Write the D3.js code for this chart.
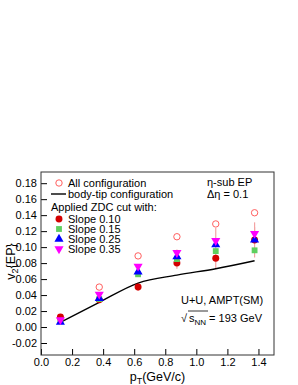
<!DOCTYPE html>
<html><head><meta charset="utf-8">
<script src="https://cdn.jsdelivr.net/npm/d3@7"></script>
<style>body{margin:0;background:#fff}svg{display:block}text{font-family:"Liberation Sans",Arial,sans-serif;fill:#000}</style>
</head><body>
<svg id="c" width="298" height="385"></svg>
<script>
const pt = [0.125, 0.375, 0.625, 0.875, 1.125, 1.375];
const allConfig = [0.011, 0.050, 0.089, 0.113, 0.129, 0.143];
const bodyTip = [0.006, 0.031, 0.055, 0.065, 0.073, 0.083];
const slope010 = [0.0125, 0.034, 0.050, 0.080, 0.086, 0.109];
const slope010Err = [0.002, 0.003, 0.005, 0.007, 0.012, 0.022];
const slope015 = [0.008, 0.035, 0.066, 0.085, 0.095, 0.096];
const slope025 = [0.006, 0.036, 0.069, 0.088, 0.103, 0.109];
const slope035 = [0.009, 0.041, 0.076, 0.093, 0.108, 0.117];
const slope035Err = [0.001, 0.002, 0.003, 0.004, 0.016, 0.008];
const xTicks = [0.0, 0.2, 0.4, 0.6, 0.8, 1.0, 1.2, 1.4];
const yTicks = [-0.02, 0.00, 0.02, 0.04, 0.06, 0.08, 0.10, 0.12, 0.14, 0.16, 0.18];
const legendLabels = ["All configuration", "body-tip configuration", "Applied ZDC cut with:", "Slope 0.10", "Slope 0.15", "Slope 0.25", "Slope 0.35"];

const svg = d3.select("#c");
const L = 41, R = 274, T = 172, B = 355;
const x = d3.scaleLinear().domain([0, 1.5]).range([L, R]);
const y = d3.scaleLinear().domain([-0.035, 0.194]).range([B, T]);

// axes
const xMinor = d3.range(0, 1.501, 0.05);
const yMinor = d3.range(-0.035, 0.1941, 0.005);
const gx = svg.append("g").attr("transform", `translate(0,${B})`);
gx.call(d3.axisBottom(x).tickValues(xMinor).tickSize(-3).tickFormat(""));
gx.call(d3.axisBottom(x).tickValues(xTicks).tickSize(-6).tickPadding(3).tickFormat(d3.format(".1f")));
const gy = svg.append("g").attr("transform", `translate(${L},0)`);
gy.call(d3.axisLeft(y).tickValues(yMinor).tickSize(-3).tickFormat(""));
gy.call(d3.axisLeft(y).tickValues(yTicks).tickSize(-6).tickPadding(4).tickFormat(d => d3.format(".2f")(d).replace("−", "-")));
svg.selectAll(".domain").remove();
svg.selectAll(".tick line").attr("stroke", "#000");
svg.selectAll(".tick text").attr("font-size", 11).attr("font-family", '"Liberation Sans",Arial,sans-serif');
svg.append("rect").attr("x", L).attr("y", T).attr("width", R - L).attr("height", B - T)
  .attr("fill", "none").attr("stroke", "#333").attr("stroke-width", 1);

// axis titles
const xt = svg.append("text").attr("x", (L + R) / 2).attr("y", 381).attr("text-anchor", "middle").attr("font-size", 12.5);
xt.append("tspan").text("p");
xt.append("tspan").attr("font-size", 9).attr("dy", 3).text("T");
xt.append("tspan").attr("dy", -3).text("(GeV/c)");
const yt = svg.append("text").attr("transform", `translate(15,${(T + B) / 2 - 2}) rotate(-90)`).attr("text-anchor", "middle").attr("font-size", 12.5);
yt.append("tspan").text("v");
yt.append("tspan").attr("font-size", 9).attr("dy", 3).text("2");
yt.append("tspan").attr("dy", -3).text("{EP}");

// error bars
const errColor = "#f3a3a3";
svg.append("g").selectAll("line").data(pt).join("line")
  .attr("x1", d => x(d)).attr("x2", d => x(d))
  .attr("y1", (d, i) => y(slope010[i] - slope010Err[i])).attr("y2", (d, i) => y(slope010[i] + slope010Err[i]))
  .attr("stroke", errColor).attr("stroke-width", 1.2);
svg.append("g").selectAll("line").data(pt).join("line")
  .attr("x1", d => x(d)).attr("x2", d => x(d))
  .attr("y1", (d, i) => y(slope035[i] - slope035Err[i])).attr("y2", (d, i) => y(slope035[i] + slope035Err[i]))
  .attr("stroke", errColor).attr("stroke-width", 1.2);

// all configuration open circles
const cAll = "#ff5f5f", cRed = "#d40000", cGreen = "#5fcf5f", cBlue = "#0000ff", cMag = "#ff00ff";
svg.append("g").selectAll("circle").data(pt).join("circle")
  .attr("cx", d => x(d)).attr("cy", (d, i) => y(allConfig[i])).attr("r", 3.2)
  .attr("fill", "none").attr("stroke", cAll).attr("stroke-width", 1);

// body-tip line
svg.append("path").datum(pt.map((d, i) => [d, bodyTip[i]]))
  .attr("d", d3.line().x(d => x(d[0])).y(d => y(d[1])).curve(d3.curveMonotoneX))
  .attr("fill", "none").attr("stroke", "#000").attr("stroke-width", 1.4);

function markers(vals, type, color, size, rot) {
  svg.append("g").selectAll("path").data(pt).join("path")
    .attr("d", d3.symbol().type(type).size(size))
    .attr("transform", (d, i) => `translate(${x(d)},${y(vals[i])}) rotate(${rot || 0})`)
    .attr("fill", color);
}
markers(slope010, d3.symbolCircle, cRed, 38);
markers(slope015, d3.symbolSquare, cGreen, 34);
markers(slope025, d3.symbolTriangle, cBlue, 36);
markers(slope035, d3.symbolTriangle, cMag, 36, 180);

// legend
const lg = svg.append("g").attr("font-size", 11);
const rowsY = [183, 194, 207, 219, 229, 239, 249];
lg.append("circle").attr("cx", 59).attr("cy", rowsY[0]).attr("r", 3.2).attr("fill", "none").attr("stroke", cAll);
lg.append("line").attr("x1", 51).attr("x2", 66).attr("y1", rowsY[1]).attr("y2", rowsY[1]).attr("stroke", "#000").attr("stroke-width", 1.4);
const lm = [[d3.symbolCircle, cRed, 38, 0], [d3.symbolSquare, cGreen, 34, 0], [d3.symbolTriangle, cBlue, 36, 0], [d3.symbolTriangle, cMag, 36, 180]];
lm.forEach((m, k) => {
  lg.append("path").attr("d", d3.symbol().type(m[0]).size(m[2])).attr("fill", m[1])
    .attr("transform", `translate(59,${rowsY[3 + k]}) rotate(${m[3]})`);
});
legendLabels.forEach((t, k) => {
  lg.append("text").attr("x", k === 2 ? 51 : 68).attr("y", rowsY[k] + 4).text(t);
});

// annotations
const an = svg.append("g").attr("font-size", 11);
an.append("text").attr("x", 207).attr("y", 186).text("η-sub EP");
an.append("text").attr("x", 207).attr("y", 198).text("Δη = 0.1");
an.append("text").attr("x", 181).attr("y", 304).text("U+U, AMPT(SM)");
const sq = an.append("text").attr("x", 181).attr("y", 322);
sq.append("tspan").text("√");
const s2 = an.append("text").attr("x", 189).attr("y", 322);
s2.append("tspan").text("s");
s2.append("tspan").attr("font-size", 8).attr("dy", 3).text("NN");
s2.append("tspan").attr("dy", -3).text(" = 193 GeV");
an.append("line").attr("x1", 188).attr("x2", 208).attr("y1", 311).attr("y2", 311).attr("stroke", "#000").attr("stroke-width", 0.8);
</script>
</body></html>
